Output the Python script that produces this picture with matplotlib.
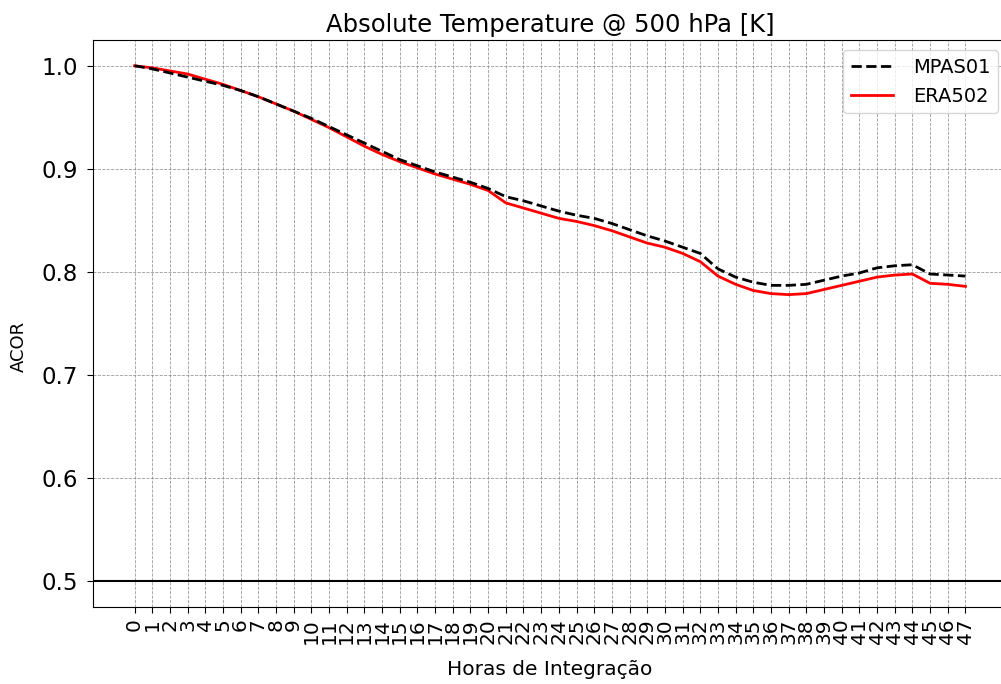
import matplotlib
matplotlib.use('Agg')
import matplotlib.pyplot as plt
import numpy as np

# forecast hours
horas = list(range(0, 48))

# anomaly correlation
mpas01 = [1.000, 0.997, 0.993, 0.989, 0.985, 0.981, 0.976, 0.970, 0.963, 0.956,
          0.949, 0.941, 0.933, 0.925, 0.917, 0.909, 0.903, 0.897, 0.892, 0.887,
          0.881, 0.873, 0.869, 0.864, 0.859, 0.855, 0.852, 0.847, 0.841, 0.835,
          0.830, 0.824, 0.818, 0.803, 0.795, 0.790, 0.787, 0.787, 0.788, 0.792,
          0.796, 0.799, 0.804, 0.806, 0.807, 0.798, 0.797, 0.796]
era502 = [1.000, 0.998, 0.995, 0.992, 0.987, 0.982, 0.976, 0.970, 0.963, 0.956,
          0.948, 0.940, 0.931, 0.922, 0.914, 0.907, 0.901, 0.895, 0.890, 0.885,
          0.879, 0.867, 0.862, 0.857, 0.852, 0.849, 0.845, 0.840, 0.834, 0.828,
          0.824, 0.818, 0.810, 0.796, 0.788, 0.782, 0.779, 0.778, 0.779, 0.783,
          0.787, 0.791, 0.795, 0.797, 0.798, 0.789, 0.788, 0.786]
referencia = 0.5

fig = plt.figure(figsize=(10.01, 6.84), dpi=100)
ax = fig.add_axes([93/1001, 77/684, 914/1001, 567/684])

ax.plot(horas, mpas01, 'k--', lw=2, label='MPAS01', zorder=3)
ax.plot(horas, era502, color='red', lw=2, label='ERA502', zorder=2)
ax.axhline(referencia, color='black', lw=1.5)

ax.set_xlim(-2.35, 49.35)
ax.set_ylim(0.475, 1.025)
ax.set_xticks(horas)
ax.set_xticklabels([str(h) for h in horas], rotation=90, fontsize=14.5)
ax.set_yticks([0.5, 0.6, 0.7, 0.8, 0.9, 1.0])
ax.tick_params(axis='y', labelsize=16.5, pad=6.5)
ax.tick_params(length=4.5)
ax.grid(True, linestyle='--', color='gray', lw=0.6, alpha=0.8)

ax.set_title('Absolute Temperature @ 500 hPa [K]', fontsize=17.5)
ax.set_xlabel('Horas de Integração', fontsize=14.5)
ax.xaxis.set_label_coords(0.5, -0.093)
ax.set_ylabel('ACOR', fontsize=13)
ax.yaxis.set_label_coords(-0.071, 0.46)
ax.legend(loc='upper right', fontsize=14, bbox_to_anchor=(998/1001, 1 - 50/684),
          bbox_transform=fig.transFigure, borderaxespad=0,
          handlelength=2.2, handletextpad=1.0)

fig.savefig('out.png', dpi=100)
